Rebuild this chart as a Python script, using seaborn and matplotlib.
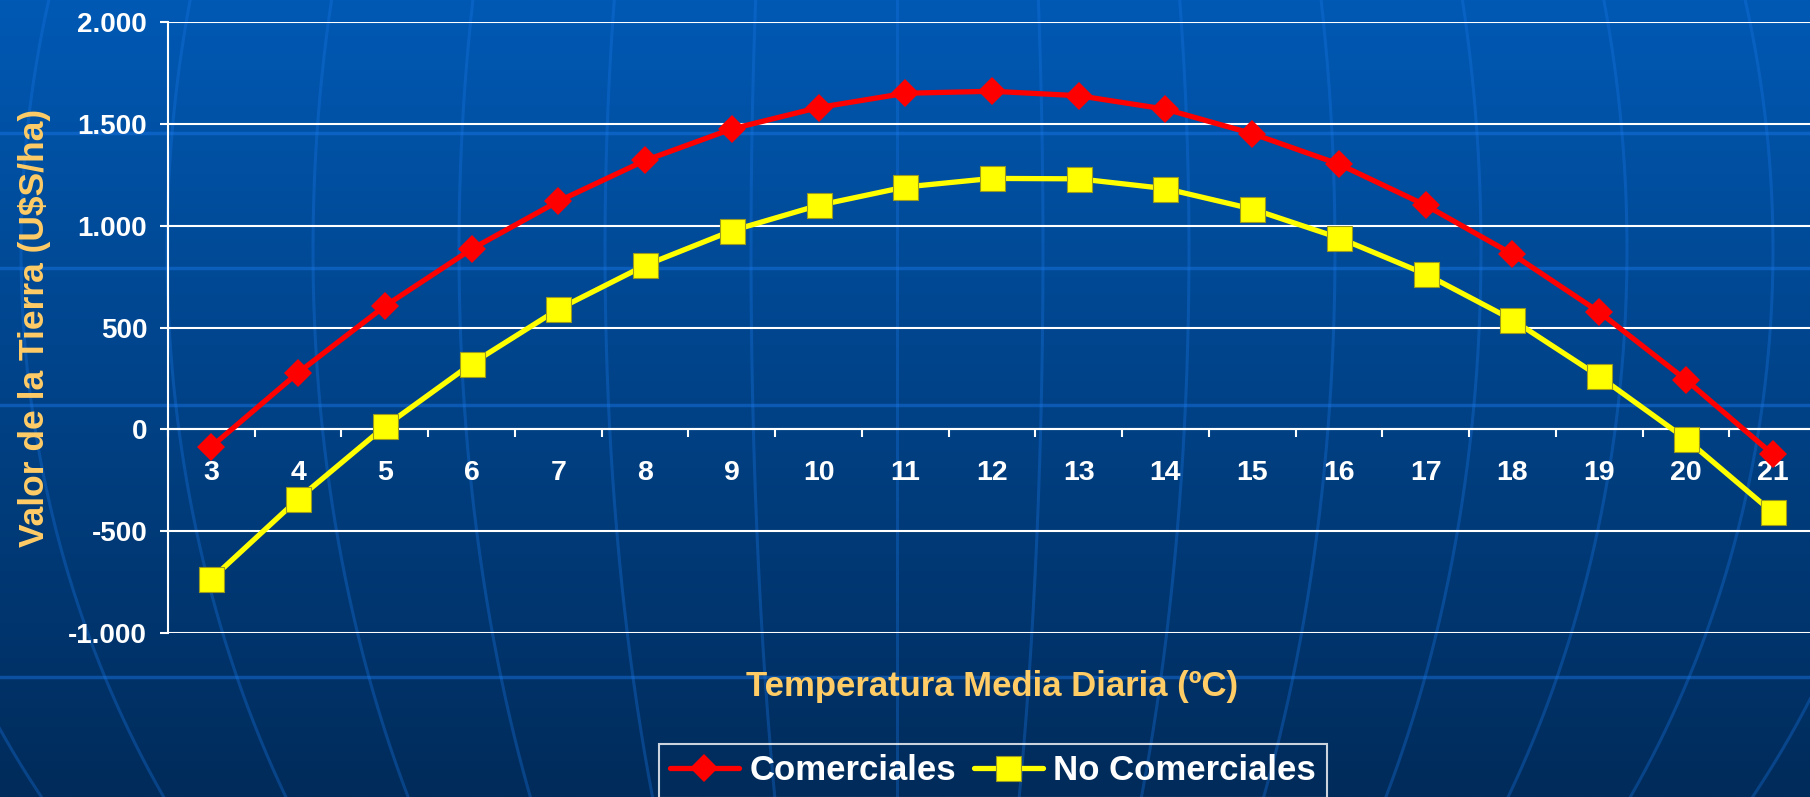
import numpy as np
import pandas as pd
import matplotlib
matplotlib.use("Agg")
import matplotlib.pyplot as plt
from matplotlib.ticker import FuncFormatter, MultipleLocator
import seaborn as sns

# datos
temperatura = list(range(3, 22))
comerciales = [-85, 278, 605, 885, 1120, 1320, 1475, 1580, 1650, 1660,
               1638, 1572, 1452, 1302, 1100, 860, 576, 243, -122]
no_comerciales = [-735, -342, 14, 322, 590, 805, 975, 1100, 1190, 1232,
                  1230, 1182, 1082, 940, 762, 538, 260, -47, -408]
series = ["Comerciales", "No Comerciales"]

df = pd.DataFrame({
    "Temperatura": temperatura * 2,
    "Valor": comerciales + no_comerciales,
    "Serie": [series[0]] * len(temperatura) + [series[1]] * len(temperatura),
})

sns.set_style("white")
plt.rcParams["font.family"] = ["Liberation Sans", "DejaVu Sans"]
plt.rcParams["font.weight"] = "bold"
plt.rcParams["axes.unicode_minus"] = False

W, H = 1810, 797
fig = plt.figure(figsize=(W / 100, H / 100), dpi=100)

# fondo degradado con lineas de globo
bg = fig.add_axes([0, 0, 1, 1], zorder=0)
top = np.array([0, 89, 180]) / 255
bot = np.array([0, 43, 90]) / 255
t = np.linspace(0, 1, 400)[:, None]
grad = (top * (1 - t) + bot * t)[:, None, :]
bg.imshow(grad, extent=[0, W, H, 0], aspect="auto")
yy = np.linspace(0, H, 300)
for i in range(-7, 8):
    xx = 897 + i * 146 * np.sqrt(1 - ((yy - 250) / 1000) ** 2)
    bg.plot(xx, yy, color="#1a78e8", alpha=0.32, lw=2.2)
for yh in [133, 268, 405, 677]:
    bg.axhline(yh, color="#1a78e8", alpha=0.45, lw=2.5)
bg.set_xlim(0, W)
bg.set_ylim(H, 0)
bg.axis("off")

# grafico
ax = fig.add_axes([168 / W, 1 - 633 / H, (1816 - 168) / W, (633 - 22) / H], zorder=1)
ax.patch.set_alpha(0)

sns.lineplot(data=df[df["Serie"] == series[0]], x="Temperatura", y="Valor",
             color="#ff0000", marker="D", markersize=14, markeredgewidth=0,
             linewidth=3.8, label=series[0], ax=ax, zorder=3)
sns.lineplot(data=df[df["Serie"] == series[1]], x="Temperatura", y="Valor",
             color="#ffff00", marker="s", markersize=18, markeredgecolor="#9a9a20",
             markeredgewidth=0.8, linewidth=3.8, label=series[1], ax=ax, zorder=4)

ax.set_xlim(temperatura[0] - 0.5, temperatura[-1] + 0.5)
ax.set_ylim(-1000, 2000)
ax.yaxis.set_major_locator(MultipleLocator(500))
ax.yaxis.set_major_formatter(FuncFormatter(lambda v, p: f"{int(v):,}".replace(",", ".")))
ax.set_xticks(temperatura)
ax.set_xticks(np.arange(temperatura[0] - 0.5, temperatura[-1] + 1), minor=True)

ax.grid(axis="y", color="white", lw=1.5)
ax.grid(axis="x", visible=False)
for s in ["top", "right"]:
    ax.spines[s].set_visible(False)
ax.spines["left"].set_color("white")
ax.spines["left"].set_linewidth(1.5)
ax.spines["bottom"].set_position(("data", 0))
ax.spines["bottom"].set_color("white")
ax.spines["bottom"].set_linewidth(1.5)

ax.tick_params(axis="y", colors="white", labelsize=20, length=6, width=1.5, pad=9, left=True)
ax.tick_params(axis="x", which="major", colors="white", labelsize=20.5, length=0, pad=22)
ax.tick_params(axis="x", which="minor", colors="white", length=6, width=1.5, direction="out", bottom=True)

ax.set_ylabel("Valor de la Tierra (U$S/ha)", fontsize=25.5, color="#ffcc66", fontweight="bold")
ax.yaxis.set_label_coords(-0.071, 0.5)
ax.set_xlabel("Temperatura Media Diaria (ºC)", fontsize=25, color="#ffcc66", fontweight="bold")
ax.xaxis.set_label_coords(0.5, -0.06)

handles, labels = ax.get_legend_handles_labels()
ax.get_legend().remove()
leg = fig.legend(handles, labels, loc="upper center", bbox_to_anchor=(993 / W, 1 - 744 / H),
                 ncol=2, fontsize=25, frameon=True, fancybox=False, edgecolor="white",
                 facecolor="none", handlelength=2.0, handletextpad=0.3,
                 columnspacing=0.5, borderpad=0.3, borderaxespad=0)
leg.get_frame().set_linewidth(1.5)
for txt in leg.get_texts():
    txt.set_color("white")
    txt.set_fontweight("bold")

fig.savefig("out.png", dpi=100)
